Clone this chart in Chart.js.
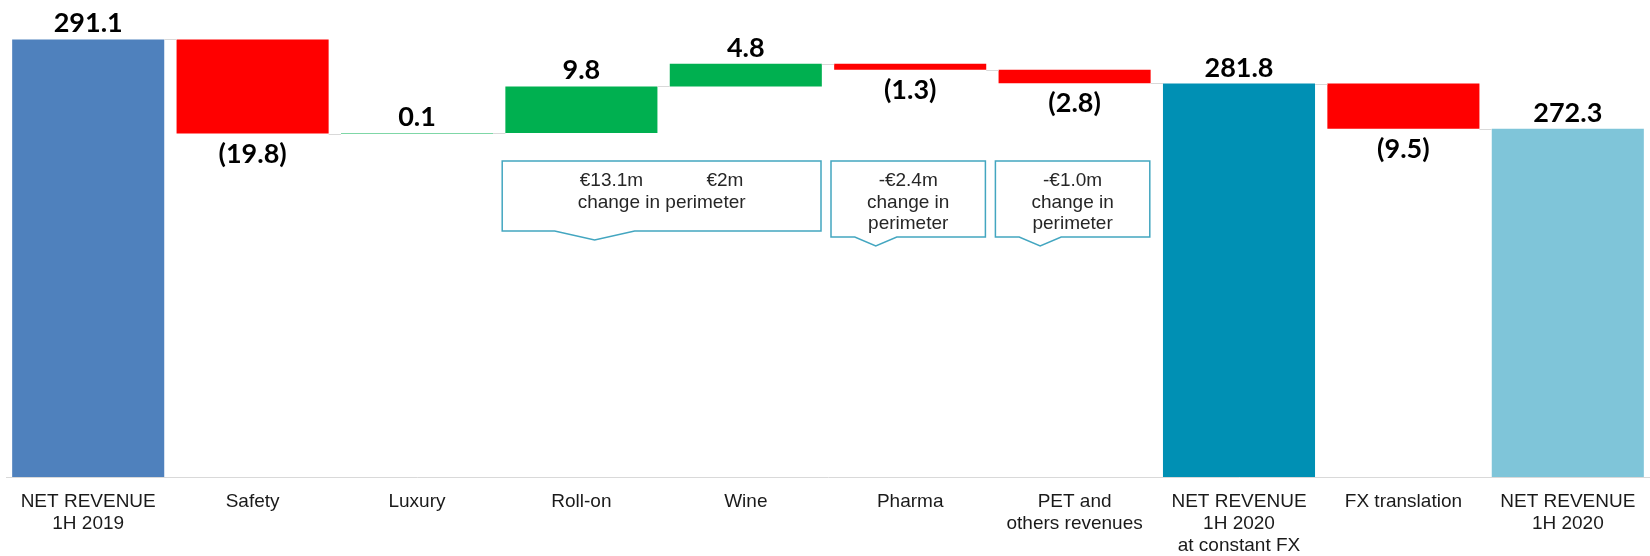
<!DOCTYPE html>
<html>
<head>
<meta charset="utf-8">
<script src="https://cdn.jsdelivr.net/npm/chart.js@4.4.0/dist/chart.umd.min.js"></script>
<style>
  html, body { margin: 0; padding: 0; background: #fff; }
</style>
</head>
<body>
<canvas id="myChart" width="1650" height="556"></canvas>
<script>
// categories and values of the bridge
const categories = [
  ['NET REVENUE', '1H 2019'],
  'Safety', 'Luxury', 'Roll-on', 'Wine', 'Pharma',
  ['PET and', 'others revenues'],
  ['NET REVENUE', '1H 2020', 'at constant FX'],
  'FX translation',
  ['NET REVENUE', '1H 2020']
];
const values = [291.1, -19.8, 0.1, 9.8, 4.8, -1.3, -2.8, 281.8, -9.5, 272.3];
const isTotal = [true, false, false, false, false, false, false, true, false, true];

// notes about perimeter changes (category index range + text)
const perimeterNotes = [
  { from: 3, to: 4, lines: ['€13.1m            €2m', 'change in perimeter'] },
  { from: 5, to: 5, lines: ['-€2.4m', 'change in', 'perimeter'] },
  { from: 6, to: 6, lines: ['-€1.0m', 'change in', 'perimeter'] }
];

// colours
const totalColors = ['#4f81bd', '#0090b4', '#7fc5d9'];
const upColor = '#00b050';
const downColor = '#ff0000';

// floating ranges for waterfall
let level = 0;
const ranges = values.map((v, i) => {
  if (isTotal[i]) { level = v; return [0, v]; }
  const start = level;
  level = +(level + v).toFixed(1);
  return [start, level];
});
let t = 0;
const barColors = values.map((v, i) => isTotal[i] ? totalColors[t++] : (v < 0 ? downColor : upColor));

const waterfallExtras = {
  id: 'waterfallExtras',
  afterDatasetsDraw(chart) {
    const ctx = chart.ctx;
    const meta = chart.getDatasetMeta(0);
    const x = chart.scales.x;
    const y = chart.scales.y;
    ctx.save();

    // connector lines
    ctx.strokeStyle = '#d9d9d9';
    ctx.lineWidth = 1;
    meta.data.forEach((bar, i) => {
      if (i === meta.data.length - 1) return;
      const next = meta.data[i + 1];
      const py = Math.round(y.getPixelForValue(ranges[i][1])) + 0.5;
      ctx.beginPath();
      ctx.moveTo(bar.x + bar.width / 2, py);
      ctx.lineTo(next.x - next.width / 2, py);
      ctx.stroke();
    });

    // value labels
    ctx.font = 'bold 27px Lato, "Open Sans", sans-serif';
    ctx.fillStyle = '#000';
    ctx.textAlign = 'center';
    ctx.textBaseline = 'alphabetic';
    meta.data.forEach((bar, i) => {
      const v = values[i];
      const txt = v < 0 ? '(' + Math.abs(v).toFixed(1) + ')' : v.toFixed(1);
      const top = y.getPixelForValue(Math.max(...ranges[i]));
      const bottom = y.getPixelForValue(Math.min(...ranges[i]));
      if (v < 0) ctx.fillText(txt, bar.x, bottom + 29);
      else ctx.fillText(txt, bar.x, top - 7);
    });

    // callout boxes
    const step = x.getPixelForValue(1) - x.getPixelForValue(0);
    perimeterNotes.forEach(n => {
      const left = x.getPixelForValue(n.from) - step / 2 + 3;
      const right = x.getPixelForValue(n.to) + step / 2 - 7;
      const w = right - left;
      const top = chart.chartArea.top + 161;
      const bottom = top + (n.lines.length === 2 ? 70 : 76);
      const tipX = left + w * 0.29;
      const half = n.lines.length === 2 ? 40 : 21;
      ctx.beginPath();
      ctx.moveTo(left, top);
      ctx.lineTo(right, top);
      ctx.lineTo(right, bottom);
      ctx.lineTo(tipX + half, bottom);
      ctx.lineTo(tipX, bottom + 9);
      ctx.lineTo(tipX - half, bottom);
      ctx.lineTo(left, bottom);
      ctx.closePath();
      ctx.fillStyle = '#fff';
      ctx.fill();
      ctx.strokeStyle = '#43a6c0';
      ctx.lineWidth = 1.5;
      ctx.stroke();

      ctx.fillStyle = '#262626';
      ctx.font = '19px "Liberation Sans", Arial, sans-serif';
      ctx.textBaseline = 'middle';
      n.lines.forEach((line, j) => {
        ctx.fillText(line, (left + right) / 2, top + 20 + j * 21.5);
      });
    });
    ctx.restore();
  }
};

new Chart(document.getElementById('myChart'), {
  type: 'bar',
  data: {
    labels: categories,
    datasets: [{
      data: ranges,
      backgroundColor: barColors,
      borderWidth: 0,
      barPercentage: 0.925,
      categoryPercentage: 1
    }]
  },
  options: {
    responsive: false,
    animation: false,
    layout: { padding: { left: 6, right: 0, top: 0, bottom: 0 } },
    plugins: {
      legend: { display: false },
      tooltip: { enabled: false }
    },
    scales: {
      x: {
        grid: { display: false, drawTicks: false },
        border: { display: true, color: '#d9d9d9', width: 1 },
        ticks: {
          color: '#1a1a1a',
          font: { family: '"Liberation Sans", Arial, sans-serif', size: 19, lineHeight: 1.16 },
          padding: 14,
          maxRotation: 0,
          autoSkip: false
        },
        afterFit: s => { s.height = 79; }
      },
      y: { display: false, min: 199, max: 299.4 }
    }
  },
  plugins: [waterfallExtras]
});
</script>
</body>
</html>
